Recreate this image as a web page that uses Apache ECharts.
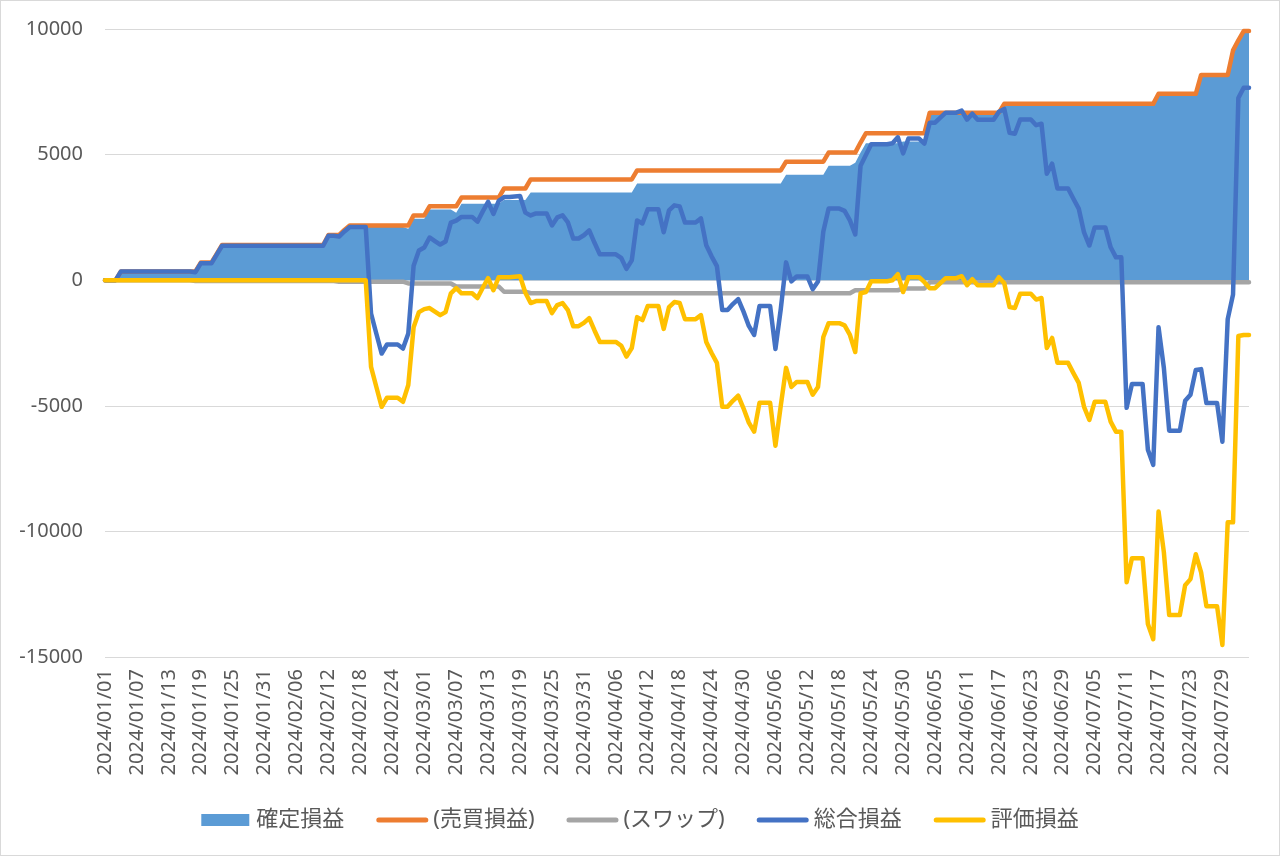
<!DOCTYPE html>
<html>
<head>
<meta charset="utf-8">
<title>損益推移</title>
<script src="https://cdn.jsdelivr.net/npm/echarts@6/dist/echarts.min.js"></script>
<style>
  html, body { margin: 0; padding: 0; background: #fff; }
  #chart {
    width: 1280px;
    height: 856px;
    box-sizing: border-box;
    border: 1px solid #d9d9d9;
  }
</style>
</head>
<body>
<div id="chart"></div>
<script>
// 日付ラベル (2024/01/01 〜 2024/08/03, 毎日)
const startDate = '2024-01-01';
const dayCount = 216;

// 凡例名
const seriesNames = ['確定損益', '(売買損益)', '(スワップ)', '総合損益', '評価損益'];

// 売買損益 (1行 = 1週間)
const tradePnl = [
  0, 0, 0, 350, 350, 350, 350,
  350, 350, 350, 350, 350, 350, 350,
  350, 350, 350, 350, 700, 700, 700,
  1050, 1400, 1400, 1400, 1400, 1400, 1400,
  1400, 1400, 1400, 1400, 1400, 1400, 1400,
  1400, 1400, 1400, 1400, 1400, 1400, 1400,
  1800, 1800, 1800, 2000, 2180, 2180, 2180,
  2180, 2180, 2180, 2180, 2180, 2180, 2180,
  2180, 2180, 2580, 2580, 2580, 2940, 2940,
  2940, 2940, 2940, 2940, 3290, 3290, 3290,
  3290, 3290, 3290, 3290, 3290, 3650, 3650,
  3650, 3650, 3650, 4010, 4010, 4010, 4010,
  4010, 4010, 4010, 4010, 4010, 4010, 4010,
  4010, 4010, 4010, 4010, 4010, 4010, 4010,
  4010, 4010, 4370, 4370, 4370, 4370, 4370,
  4370, 4370, 4370, 4370, 4370, 4370, 4370,
  4370, 4370, 4370, 4370, 4370, 4370, 4370,
  4370, 4370, 4370, 4370, 4370, 4370, 4370,
  4370, 4370, 4720, 4720, 4720, 4720, 4720,
  4720, 4720, 4720, 5080, 5080, 5080, 5080,
  5080, 5080, 5480, 5850, 5850, 5850, 5850,
  5850, 5850, 5850, 5850, 5850, 5850, 5850,
  5850, 6670, 6670, 6670, 6670, 6670, 6670,
  6670, 6670, 6670, 6670, 6670, 6670, 6670,
  6670, 7020, 7020, 7020, 7020, 7020, 7020,
  7020, 7020, 7020, 7020, 7020, 7020, 7020,
  7020, 7020, 7020, 7020, 7020, 7020, 7020,
  7020, 7020, 7020, 7020, 7020, 7020, 7020,
  7020, 7020, 7420, 7420, 7420, 7420, 7420,
  7420, 7420, 7420, 8170, 8170, 8170, 8170,
  8170, 8170, 9150, 9550, 9920, 9920
];

// スワップ
const swapPnl = [
  0, 0, 0, 0, 0, 0, 0,
  0, 0, 0, 0, 0, 0, 0,
  0, 0, 0, -30, -30, -30, -30,
  -30, -30, -30, -30, -30, -30, -30,
  -30, -30, -30, -30, -30, -30, -30,
  -30, -30, -30, -30, -30, -30, -30,
  -30, -30, -60, -60, -60, -60, -60,
  -60, -60, -60, -60, -60, -60, -60,
  -60, -130, -130, -130, -130, -130, -130,
  -130, -130, -130, -250, -250, -250, -250,
  -250, -250, -250, -250, -250, -460, -460,
  -460, -460, -460, -520, -520, -520, -520,
  -520, -520, -520, -520, -520, -520, -520,
  -520, -520, -520, -520, -520, -520, -520,
  -520, -520, -520, -520, -520, -520, -520,
  -520, -520, -520, -520, -520, -520, -520,
  -520, -520, -520, -520, -520, -520, -520,
  -520, -520, -520, -520, -520, -520, -520,
  -520, -520, -520, -520, -520, -520, -520,
  -520, -520, -520, -520, -520, -520, -520,
  -520, -400, -400, -400, -400, -400, -400,
  -400, -400, -400, -330, -330, -330, -330,
  -330, -80, -80, -80, -80, -80, -80,
  -80, -80, -80, -80, -80, -80, -80,
  -80, -80, -80, -80, -80, -80, -80,
  -80, -80, -80, -80, -80, -80, -80,
  -80, -80, -80, -80, -80, -80, -80,
  -80, -80, -80, -80, -80, -80, -80,
  -80, -80, -80, -80, -80, -80, -80,
  -80, -80, -80, -80, -80, -80, -80,
  -80, -80, -80, -80, -80, -80
];

// 確定損益
const realizedPnl = [
  0, 0, 0, 350, 350, 350, 350,
  350, 350, 350, 350, 350, 350, 350,
  350, 350, 350, 320, 670, 670, 670,
  1020, 1370, 1370, 1370, 1370, 1370, 1370,
  1370, 1370, 1370, 1370, 1370, 1370, 1370,
  1370, 1370, 1370, 1370, 1370, 1370, 1370,
  1770, 1770, 1740, 1940, 2120, 2120, 2120,
  2120, 2120, 2120, 2120, 2120, 2120, 2120,
  2120, 2050, 2450, 2450, 2450, 2810, 2810,
  2810, 2810, 2810, 2690, 3040, 3040, 3040,
  3040, 3040, 3040, 3040, 3040, 3190, 3190,
  3190, 3190, 3190, 3490, 3490, 3490, 3490,
  3490, 3490, 3490, 3490, 3490, 3490, 3490,
  3490, 3490, 3490, 3490, 3490, 3490, 3490,
  3490, 3490, 3850, 3850, 3850, 3850, 3850,
  3850, 3850, 3850, 3850, 3850, 3850, 3850,
  3850, 3850, 3850, 3850, 3850, 3850, 3850,
  3850, 3850, 3850, 3850, 3850, 3850, 3850,
  3850, 3850, 4200, 4200, 4200, 4200, 4200,
  4200, 4200, 4200, 4560, 4560, 4560, 4560,
  4560, 4680, 5080, 5450, 5450, 5450, 5450,
  5450, 5450, 5450, 5520, 5520, 5520, 5520,
  5520, 6590, 6590, 6590, 6590, 6590, 6590,
  6590, 6590, 6590, 6590, 6590, 6590, 6590,
  6590, 6940, 6940, 6940, 6940, 6940, 6940,
  6940, 6940, 6940, 6940, 6940, 6940, 6940,
  6940, 6940, 6940, 6940, 6940, 6940, 6940,
  6940, 6940, 6940, 6940, 6940, 6940, 6940,
  6940, 6940, 7340, 7340, 7340, 7340, 7340,
  7340, 7340, 7340, 8090, 8090, 8090, 8090,
  8090, 8090, 9070, 9470, 9840, 9840
];

// 評価損益
const unrealizedPnl = [
  0, 0, 0, 0, 0, 0, 0,
  0, 0, 0, 0, 0, 0, 0,
  0, 0, 0, 0, 0, 0, 0,
  0, 0, 0, 0, 0, 0, 0,
  0, 0, 0, 0, 0, 0, 0,
  0, 0, 0, 0, 0, 0, 0,
  0, 0, 0, 0, 0, 0, 0,
  0, -3450, -4250, -5040, -4680, -4680, -4680,
  -4840, -4170, -1870, -1270, -1150, -1110, -1250,
  -1390, -1270, -520, -320, -520, -520, -520,
  -710, -300, 80, -400, 120, 120, 120,
  140, 160, -500, -910, -830, -830, -830,
  -1310, -990, -910, -1190, -1830, -1830, -1700,
  -1510, -2000, -2460, -2460, -2460, -2460, -2600,
  -3040, -2700, -1470, -1590, -1030, -1030, -1030,
  -1940, -1070, -870, -910, -1550, -1550, -1550,
  -1390, -2460, -2900, -3290, -5040, -5040, -4800,
  -4600, -5100, -5670, -6030, -4880, -4880, -4880,
  -6590, -5000, -3490, -4250, -4050, -4050, -4050,
  -4560, -4250, -2260, -1710, -1710, -1710, -1800,
  -2180, -2860, -520, -470, -40, -40, -40,
  -40, 0, 240, -470, 120, 120, 120,
  -80, -320, -320, -120, 80, 80, 80,
  160, -200, 40, -200, -200, -200, -200,
  120, -120, -1070, -1110, -540, -540, -540,
  -770, -710, -2700, -2300, -3290, -3290, -3290,
  -3700, -4090, -5040, -5560, -4840, -4840, -4840,
  -5630, -6030, -6030, -12020, -11070, -11070, -11070,
  -13690, -14290, -9210, -10830, -13330, -13330, -13330,
  -12140, -11900, -10910, -11630, -12980, -12980, -12980,
  -14520, -9640, -9640, -2220, -2180, -2180
];

// 総合損益
const totalPnl = [
  0, 0, 0, 350, 350, 350, 350,
  350, 350, 350, 350, 350, 350, 350,
  350, 350, 350, 320, 670, 670, 670,
  1020, 1370, 1370, 1370, 1370, 1370, 1370,
  1370, 1370, 1370, 1370, 1370, 1370, 1370,
  1370, 1370, 1370, 1370, 1370, 1370, 1370,
  1770, 1770, 1740, 1940, 2120, 2120, 2120,
  2120, -1330, -2130, -2920, -2560, -2560, -2560,
  -2720, -2120, 580, 1180, 1300, 1700, 1560,
  1420, 1540, 2290, 2370, 2520, 2520, 2520,
  2330, 2740, 3120, 2640, 3160, 3310, 3310,
  3330, 3350, 2690, 2580, 2660, 2660, 2660,
  2180, 2500, 2580, 2300, 1660, 1660, 1790,
  1980, 1490, 1030, 1030, 1030, 1030, 890,
  450, 790, 2380, 2260, 2820, 2820, 2820,
  1910, 2780, 2980, 2940, 2300, 2300, 2300,
  2460, 1390, 950, 560, -1190, -1190, -950,
  -750, -1250, -1820, -2180, -1030, -1030, -1030,
  -2740, -1150, 710, -50, 150, 150, 150,
  -360, -50, 1940, 2850, 2850, 2850, 2760,
  2380, 1820, 4560, 4980, 5410, 5410, 5410,
  5410, 5450, 5690, 5050, 5640, 5640, 5640,
  5440, 6270, 6270, 6470, 6670, 6670, 6670,
  6750, 6390, 6630, 6390, 6390, 6390, 6390,
  6710, 6820, 5870, 5830, 6400, 6400, 6400,
  6170, 6230, 4240, 4640, 3650, 3650, 3650,
  3240, 2850, 1900, 1380, 2100, 2100, 2100,
  1310, 910, 910, -5080, -4130, -4130, -4130,
  -6750, -7350, -1870, -3490, -5990, -5990, -5990,
  -4800, -4560, -3570, -3540, -4890, -4890, -4890,
  -6430, -1550, -570, 7250, 7660, 7660
];

const colors = ['#5B9BD5', '#ED7D31', '#A5A5A5', '#4472C4', '#FFC000'];
const textColor = '#595959';
const fontFamily = "'Noto Sans', 'Noto Sans CJK JP', sans-serif";

// 凡例アイコン: 面は四角、線は丸端の太線
const rectIcon = 'path://M0,0L48,0L48,12L0,12Z';
const lineIcon = 'path://M2.5,0L49.5,0A2.5,2.5,0,0,1,49.5,5L2.5,5A2.5,2.5,0,0,1,2.5,0Z';

function makeDates(start, count) {
  const d = new Date(start + 'T00:00:00');
  const out = [];
  for (let i = 0; i < count; i++) {
    const y = d.getFullYear();
    const m = String(d.getMonth() + 1).padStart(2, '0');
    const day = String(d.getDate()).padStart(2, '0');
    out.push(y + '/' + m + '/' + day);
    d.setDate(d.getDate() + 1);
  }
  return out;
}

// 折れ線1本分
function lineSeries(name, data, color) {
  return {
    name: name,
    type: 'line',
    data: data,
    symbol: 'none',
    itemStyle: { color: color },
    lineStyle: { color: color, width: 4.5, cap: 'round', join: 'round' }
  };
}

function getOption() {
  return {
    animation: false,
    textStyle: { fontFamily: fontFamily },
    grid: { left: 104, right: 30, top: 28, bottom: 198 },
    legend: {
      top: 803,
      left: 'center',
      itemWidth: 52,
      itemHeight: 12,
      itemGap: 32,
      symbolKeepAspect: true,
      textStyle: { color: textColor, fontSize: 22, fontFamily: fontFamily },
      data: [
        { name: seriesNames[0], icon: rectIcon },
        { name: seriesNames[1], icon: lineIcon },
        { name: seriesNames[2], icon: lineIcon },
        { name: seriesNames[3], icon: lineIcon },
        { name: seriesNames[4], icon: lineIcon }
      ]
    },
    xAxis: {
      type: 'category',
      boundaryGap: false,
      data: makeDates(startDate, dayCount),
      axisLine: { show: false },
      axisTick: { show: false },
      axisLabel: {
        interval: 5,
        rotate: 90,
        margin: 12,
        color: textColor,
        fontSize: 20,
        fontFamily: fontFamily
      }
    },
    yAxis: {
      type: 'value',
      min: -15000,
      max: 10000,
      interval: 5000,
      axisLine: { show: false },
      axisTick: { show: false },
      axisLabel: {
        margin: 22,
        color: textColor,
        fontSize: 20,
        fontFamily: fontFamily,
        formatter: function (v) { return String(v); }
      },
      splitLine: { lineStyle: { color: '#D9D9D9', width: 1 } }
    },
    series: [
      {
        name: seriesNames[0],
        type: 'line',
        data: realizedPnl,
        symbol: 'none',
        itemStyle: { color: colors[0] },
        lineStyle: { width: 0, color: colors[0] },
        areaStyle: { color: colors[0], opacity: 1 }
      },
      lineSeries(seriesNames[1], tradePnl, colors[1]),
      lineSeries(seriesNames[2], swapPnl, colors[2]),
      lineSeries(seriesNames[3], totalPnl, colors[3]),
      lineSeries(seriesNames[4], unrealizedPnl, colors[4])
    ]
  };
}

const chart = echarts.init(document.getElementById('chart'), null, { renderer: 'canvas' });
chart.setOption(getOption());
</script>
</body>
</html>
